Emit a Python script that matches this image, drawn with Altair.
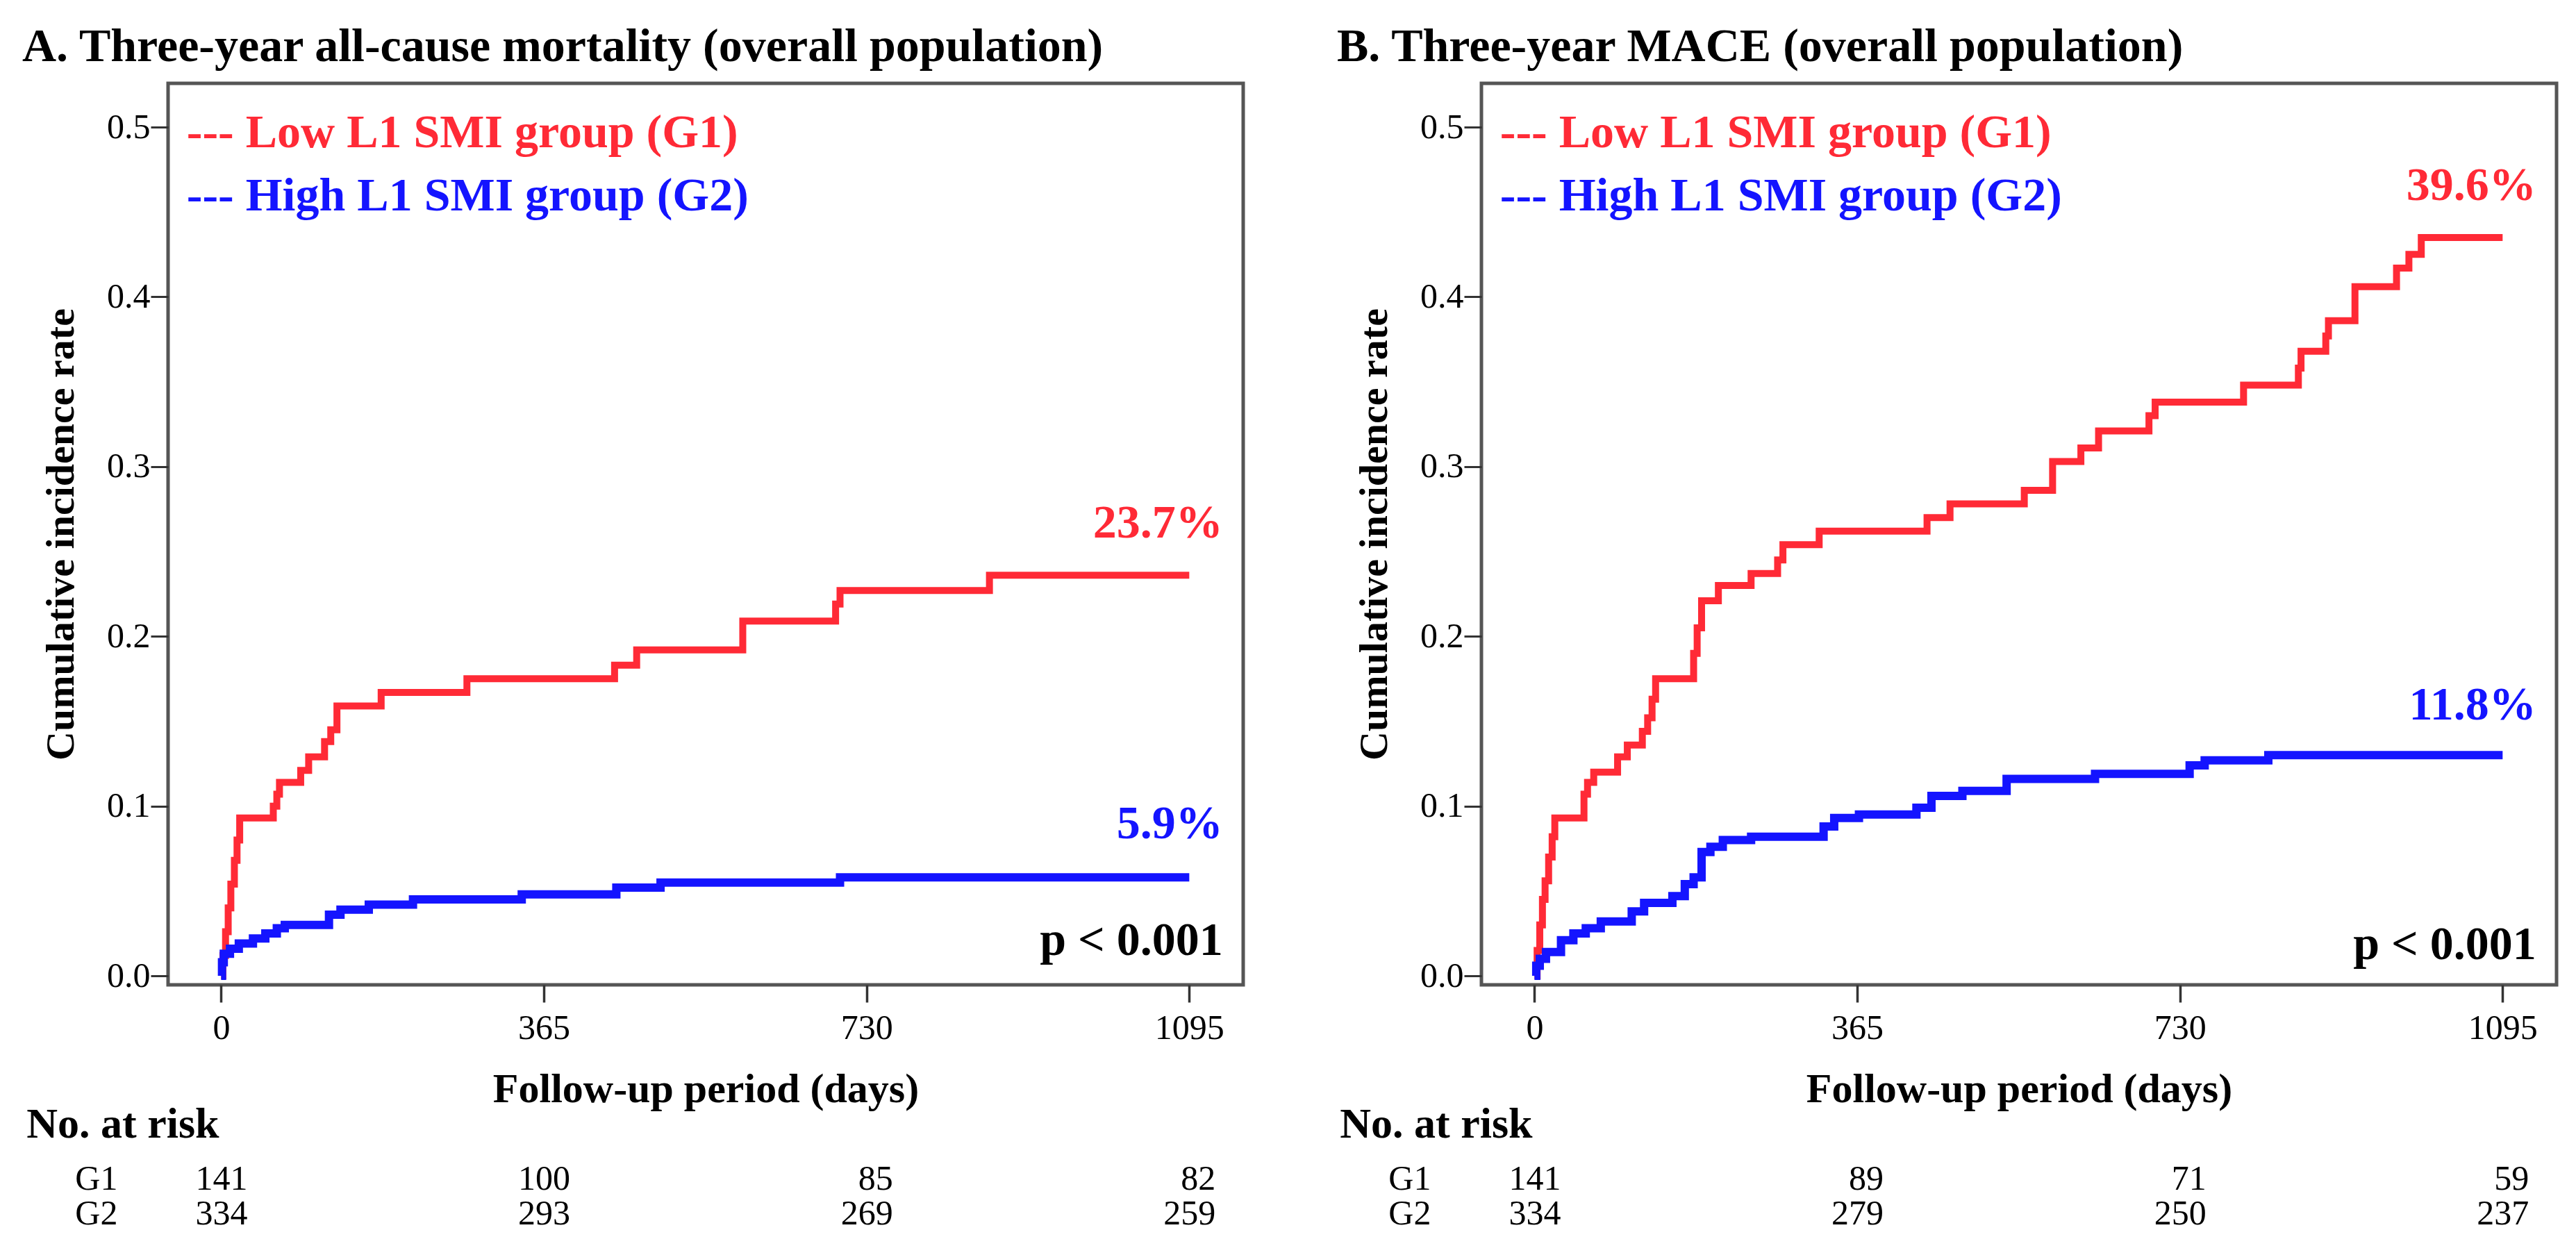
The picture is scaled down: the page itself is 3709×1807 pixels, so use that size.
import altair as alt
import pandas as pd

FONT = "Liberation Serif"
RED = "#ff2a36"
BLUE = "#1414ff"

# ---------------- data ----------------
# Panel A: three-year all-cause mortality
a_red_day = [0, 2, 5, 8, 11, 15, 18, 21, 59, 63, 66, 90, 99, 117, 124, 131, 181, 278, 445, 470, 590, 695, 700, 869, 1095]
a_red_rate = [0, 0.012, 0.026, 0.040, 0.054, 0.068, 0.080, 0.093, 0.100, 0.107, 0.114, 0.121, 0.129, 0.138, 0.145, 0.159,
              0.167, 0.175, 0.183, 0.192, 0.209, 0.219, 0.227, 0.236, 0.236]
a_blue_day = [0, 1, 3, 10, 20, 36, 50, 63, 72, 122, 135, 167, 217, 340, 447, 497, 700, 1095]
a_blue_rate = [0, 0.008, 0.013, 0.016, 0.019, 0.022, 0.025, 0.028, 0.030, 0.036, 0.039, 0.042, 0.045, 0.048, 0.052,
               0.055, 0.058, 0.058]

# Panel B: three-year MACE
b_red_day = [0, 3, 6, 9, 12, 16, 20, 23, 56, 60, 67, 94, 105, 122, 128, 133, 137, 180, 184, 189, 208, 245, 275, 281,
             322, 444, 470, 554, 586, 618, 638, 695, 702, 802, 864, 867, 895, 898, 928, 975, 989, 1003, 1095]
b_red_rate = [0, 0.015, 0.030, 0.045, 0.056, 0.070, 0.082, 0.093, 0.107, 0.114, 0.120, 0.129, 0.136, 0.144, 0.152,
              0.163, 0.175, 0.190, 0.205, 0.221, 0.230, 0.237, 0.245, 0.254, 0.262, 0.270, 0.278, 0.286, 0.303,
              0.311, 0.321, 0.330, 0.338, 0.348, 0.358, 0.368, 0.377, 0.386, 0.406, 0.417, 0.425, 0.435, 0.435]
b_blue_day = [0, 2, 6, 13, 30, 44, 58, 75, 110, 124, 156, 170, 180, 189, 199, 213, 245, 327, 339, 367, 432, 449, 484,
              534, 634, 741, 758, 830, 1095]
b_blue_rate = [0, 0.006, 0.010, 0.014, 0.021, 0.025, 0.028, 0.032, 0.038, 0.043, 0.047, 0.054, 0.058, 0.073, 0.076,
               0.080, 0.082, 0.088, 0.093, 0.095, 0.099, 0.106, 0.109, 0.116, 0.119, 0.124, 0.127, 0.130, 0.130]

risk_days = [0, 365, 730, 1095]
a_risk_g1 = [141, 100, 85, 82]
a_risk_g2 = [334, 293, 269, 259]
b_risk_g1 = [141, 89, 71, 59]
b_risk_g2 = [334, 279, 250, 237]

y_ticks = [0.0, 0.1, 0.2, 0.3, 0.4, 0.5]
titles = ["A. Three-year all-cause mortality (overall population)", "B. Three-year MACE (overall population)"]
legend_labels = ["--- Low L1 SMI group (G1)", "--- High L1 SMI group (G2)"]
a_final_labels = ["23.7%", "5.9%"]
b_final_labels = ["39.6%", "11.8%"]
p_label = "p < 0.001"
groups = ["G1", "G2"]

# ---------------- layout ----------------
W, H = 1548, 1298
xs = alt.Scale(domain=[-60, 1156], nice=False, zero=False)
ys = alt.Scale(domain=[-0.0053, 0.5258], nice=False, zero=False)

x_enc = alt.X("day:Q", scale=xs, axis=alt.Axis(
    values=risk_days, format="d", title="Follow-up period (days)", grid=False, domain=False,
    tickSize=25, tickWidth=3.5, tickColor="#333",
    labelFont=FONT, labelFontSize=50, labelColor="#000", labelPadding=12,
    labelFlush=False, labelOverlap=False,
    titleFont=FONT, titleFontSize=60, titleFontWeight="bold", titleColor="#000",
    titleX=W / 2, titleY=168, titleBaseline="alphabetic", titleAlign="center"))
y_enc = alt.Y("rate:Q", scale=ys, axis=alt.Axis(
    values=y_ticks, format=".1f", title="Cumulative incidence rate", grid=False, domain=False,
    tickSize=25, tickWidth=3, tickColor="#333",
    labelFont=FONT, labelFontSize=50, labelColor="#000", labelPadding=1, labelOverlap=False,
    titleFont=FONT, titleFontSize=58, titleFontWeight="bold", titleColor="#000",
    titleX=-137, titleY=H / 2, titleAngle=270, titleBaseline="alphabetic", titleAlign="center"))
col = alt.Color("grp:N", scale=alt.Scale(domain=groups, range=[RED, BLUE]), legend=None)


def panel(title, title_dx, red_d, red_v, blue_d, blue_v, finals, final_y, p_y, g1, g2):
    red_df = pd.DataFrame({"day": red_d, "rate": red_v, "grp": "G1"})
    blue_df = pd.DataFrame({"day": blue_d, "rate": blue_v, "grp": "G2"})
    red_line = alt.Chart(red_df).mark_line(interpolate="step-after", strokeWidth=10, color=RED).encode(
        x=x_enc, y=y_enc)
    blue_line = alt.Chart(blue_df).mark_line(interpolate="step-after", strokeWidth=12, color=BLUE).encode(
        x=x_enc, y=y_enc)

    leg_df = pd.DataFrame({"day": [-39, -39], "rate": [0.488, 0.451], "label": legend_labels, "grp": groups})
    leg = alt.Chart(leg_df).mark_text(align="left", baseline="alphabetic", font=FONT, fontSize=68,
                                      fontWeight="bold").encode(x=x_enc, y=y_enc, text="label:N", color=col)

    fin_df = pd.DataFrame({"day": [1133, 1133], "rate": final_y, "label": finals, "grp": groups})
    fin = alt.Chart(fin_df).mark_text(align="right", baseline="alphabetic", font=FONT, fontSize=68,
                                      fontWeight="bold").encode(x=x_enc, y=y_enc, text="label:N", color=col)

    p_df = pd.DataFrame({"day": [1133], "rate": [p_y], "label": [p_label]})
    p_txt = alt.Chart(p_df).mark_text(align="right", baseline="alphabetic", font=FONT, fontSize=68,
                                      fontWeight="bold", color="#000").encode(x=x_enc, y=y_enc, text="label:N")

    head_df = pd.DataFrame({"day": [-220], "rate": [-0.0953], "label": ["No. at risk"]})
    head = alt.Chart(head_df).mark_text(align="left", baseline="alphabetic", font=FONT, fontSize=62,
                                        fontWeight="bold", color="#000").encode(x=x_enc, y=y_enc, text="label:N")

    rowlab_df = pd.DataFrame({"day": [-165, -165], "rate": [-0.126, -0.1465], "label": groups})
    rowlab = alt.Chart(rowlab_df).mark_text(align="left", baseline="alphabetic", font=FONT, fontSize=50,
                                            color="#000").encode(x=x_enc, y=y_enc, text="label:N")

    risk_df = pd.DataFrame({
        "day": risk_days + risk_days,
        "rate": [-0.126] * 4 + [-0.1465] * 4,
        "label": [str(v) for v in g1 + g2],
    })
    risk = alt.Chart(risk_df).mark_text(align="right", baseline="alphabetic", dx=38, font=FONT, fontSize=50,
                                        color="#000").encode(x=x_enc, y=y_enc, text="label:N")

    return alt.layer(red_line, blue_line, leg, fin, p_txt, head, rowlab, risk).properties(
        width=W, height=H,
        view=alt.ViewBackground(stroke="#555", strokeWidth=5, fill="white"),
        title=alt.TitleParams(text=title, anchor="start", frame="group", dx=title_dx, offset=18,
                              font=FONT, fontSize=68, fontWeight="bold", color="#000"))


pa = panel(titles[0], -210, a_red_day, a_red_rate, a_blue_day, a_blue_rate,
           a_final_labels, [0.258, 0.081], 0.0123, a_risk_g1, a_risk_g2)
pb = panel(titles[1], -208, b_red_day, b_red_rate, b_blue_day, b_blue_rate,
           b_final_labels, [0.457, 0.151], 0.0098, b_risk_g1, b_risk_g2)

chart = alt.hconcat(pa, pb, spacing=343, bounds="flush").properties(
    padding={"left": 21, "top": 23, "right": 10, "bottom": 10},
    background="white",
).configure(font=FONT).configure_view(stroke="#555", strokeWidth=5)

chart.save("out.html", embed_options={"renderer": "svg", "actions": False})
